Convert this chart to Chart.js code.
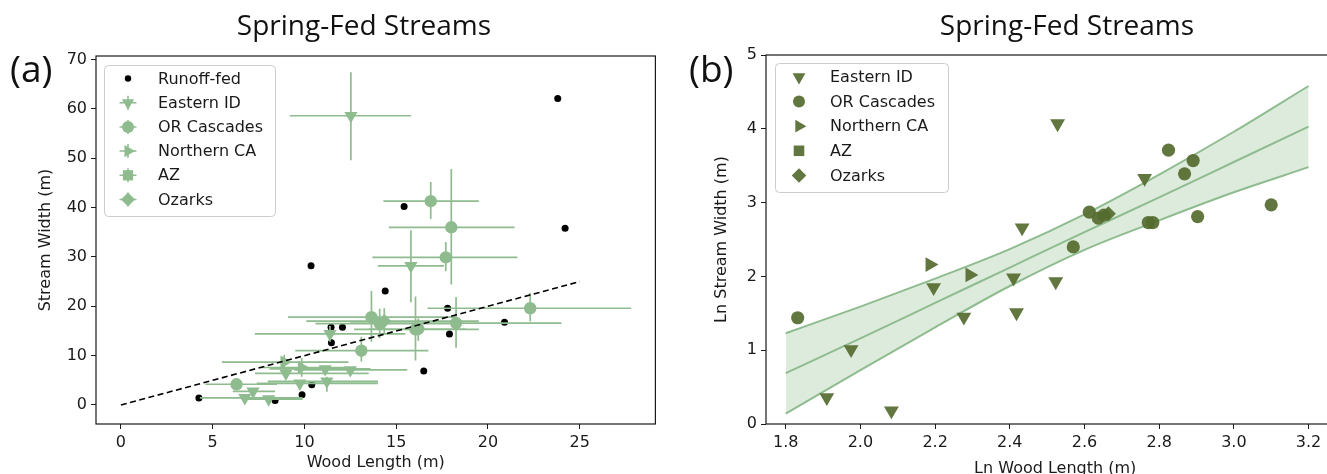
<!DOCTYPE html>
<html>
<head>
<meta charset="utf-8">
<script src="https://cdn.jsdelivr.net/npm/chart.js@4.4.1/dist/chart.umd.min.js"></script>
<style>
  html, body { margin: 0; padding: 0; background: #fff; overflow: hidden; width: 1327px; height: 474px; }
  canvas { position: absolute; top: 0; }
  #chartA { left: 0; }
  #chartB { left: 663px; }
  .title { position: absolute; top: 5px; font-family: 'Open Sans', sans-serif; font-size: 28px; color: #111;
           white-space: nowrap; transform: translateX(-50%); }
  .tag { position: absolute; top: 42px; font-family: 'Open Sans', sans-serif; font-size: 37px; color: #111; }
</style>
</head>
<body>
<canvas id="chartA" width="663" height="474"></canvas>
<canvas id="chartB" width="690" height="480"></canvas>
<div class="title" style="left:364px">Spring-Fed Streams</div>
<div class="title" style="left:1067px">Spring-Fed Streams</div>
<div class="tag" style="left:10px">(a)</div>
<div class="tag" style="left:689px">(b)</div>
<script>
// ---- panel (a): stream width vs wood length ----
const runoffX = [4.25, 8.4, 9.87, 10.4, 10.36, 11.45, 12.07, 11.47, 14.4, 15.43, 16.5, 17.8, 17.9, 20.9, 23.8, 24.2];
const runoffY = [1.4, 0.9, 2.1, 4.1, 28.2, 15.75, 15.75, 12.6, 23.1, 40.2, 6.9, 19.6, 14.4, 16.75, 62.1, 35.8];

const idX   = [6.75, 7.2, 8.05, 8.99, 9.75, 11.13, 11.22, 11.39, 12.5, 12.53, 15.8];
const idY   = [1.45, 2.75, 1.2, 6.4, 4.4, 7.3, 4.8, 14.4, 7.1, 58.6, 28.2];
const idXlo = [4.3, 6.1, 6.6, 7.3, 7.4, 8.1, 8.0, 7.3, 9.45, 9.2, 14.0];
const idXhi = [9.9, 8.4, 9.9, 13.5, 14.0, 13.6, 14.0, 15.5, 15.6, 15.8, 17.6];
const idYlo = [1.1, 2.3, 0.9, 5.6, 3.8, 6.6, 2.7, 12.8, 6.5, 49.6, 20.8];
const idYhi = [1.8, 3.2, 1.5, 7.2, 5.0, 8.0, 5.7, 16.0, 7.7, 67.4, 35.4];

const orX   = [6.3, 13.1, 13.65, 14.1, 16.05, 16.2, 16.88, 17.7, 18.0, 18.26, 22.3];
const orY   = [4.2, 11.0, 17.8, 16.5, 15.3, 15.4, 41.3, 29.9, 36.0, 16.6, 19.6];
const orXlo = [4.6, 9.5, 9.1, 10.6, 12.7, 13.5, 14.3, 13.7, 14.6, 12.5, 16.7];
const orXhi = [8.5, 16.75, 18.3, 17.9, 19.5, 18.8, 19.5, 21.6, 21.45, 24.0, 27.8];
const orYlo = [3.3, 8.8, 12.8, 13.5, 9.0, 13.0, 37.7, 27.1, 24.4, 11.6, 16.9];
const orYhi = [5.0, 13.8, 23.1, 19.5, 22.0, 17.5, 45.2, 33.0, 47.8, 21.9, 22.7];

const ncaX   = [8.9, 9.85];
const ncaY   = [8.7, 7.6];
const ncaXlo = [5.5, 7.6];
const ncaXhi = [12.4, 12.2];
const ncaYlo = [7.6, 5.7];
const ncaYhi = [10.2, 9.5];

const ozX   = [14.35];
const ozY   = [17.0];
const ozXlo = [10.1];
const ozXhi = [19.5];
const ozYlo = [14.5];
const ozYhi = [19.6];

const oneToOneX = [0, 25];
const oneToOneY = [0, 25];

const ticksAX = [0, 5, 10, 15, 20, 25];
const ticksAY = [0, 10, 20, 30, 40, 50, 60, 70];

// ---- panel (b): ln-ln with fit and confidence band ----
const lnIdX = [1.91, 1.975, 2.083, 2.196, 2.277, 2.41, 2.418, 2.433, 2.523, 2.528, 2.761];
const lnIdY = [0.36, 1.01, 0.18, 1.85, 1.45, 1.98, 1.51, 2.66, 1.93, 4.07, 3.33];
const lnOrX = [1.832, 2.57, 2.613, 2.637, 2.652, 2.771, 2.783, 2.825, 2.868, 2.891, 2.903, 3.10];
const lnOrY = [1.44, 2.40, 2.87, 2.79, 2.83, 2.73, 2.73, 3.71, 3.39, 3.57, 2.81, 2.97];
const lnNcaX = [2.186, 2.293];
const lnNcaY = [2.16, 2.02];
const lnOzX = [2.664];
const lnOzY = [2.85];

const bandX     = [1.8, 2.0, 2.2, 2.4, 2.6, 2.8, 3.0, 3.2];
const bandUpper = [1.23, 1.59, 1.97, 2.37, 2.84, 3.38, 3.96, 4.58];
const fitLine   = [0.69, 1.16, 1.64, 2.12, 2.60, 3.07, 3.55, 4.03];
const bandLower = [0.14, 0.73, 1.31, 1.87, 2.36, 2.76, 3.14, 3.48];

const ticksBX = [1.8, 2.0, 2.2, 2.4, 2.6, 2.8, 3.0, 3.2];
const ticksBY = [0, 1, 2, 3, 4, 5];

const lightGreen = '#8fbc8f';
const darkGreen = 'rgba(85,107,47,0.92)';
const ink = '#1a1a1a';

Chart.defaults.font.family = "'DejaVu Sans', sans-serif";
Chart.defaults.font.size = 16;
Chart.defaults.color = ink;

const pts = (xs, ys) => xs.map((x, i) => ({ x: x, y: ys[i] }));

// error bars as one broken line: horizontal then vertical segment per point
function whiskers(xs, ys, xlo, xhi, ylo, yhi) {
  const out = [];
  xs.forEach((x, i) => {
    out.push({ x: xlo[i], y: ys[i] }, { x: xhi[i], y: ys[i] }, { x: null, y: null });
    out.push({ x: x, y: ylo[i] }, { x: x, y: yhi[i] }, { x: null, y: null });
  });
  return out;
}

function drawMarker(ctx, style, x, y, r, rot) {
  ctx.beginPath();
  if (style === 'circle') {
    ctx.arc(x, y, r, 0, Math.PI * 2);
  } else if (style === 'triangle') {
    let a = (rot || 0) * Math.PI / 180;
    for (let k = 0; k < 3; k++) {
      const px = x + Math.sin(a) * r, py = y - Math.cos(a) * r;
      if (k) ctx.lineTo(px, py); else ctx.moveTo(px, py);
      a += 2 * Math.PI / 3;
    }
    ctx.closePath();
  } else if (style === 'rect') {
    const s = r * 0.8;
    ctx.rect(x - s, y - s, 2 * s, 2 * s);
  } else if (style === 'rectRot') {
    const s = r * 1.1;
    ctx.moveTo(x, y - s); ctx.lineTo(x + s, y); ctx.lineTo(x, y + s); ctx.lineTo(x - s, y);
    ctx.closePath();
  }
  ctx.fill();
}

// axes frame + boxed legend
const framePlugin = {
  id: 'boxLegend',
  afterDatasetsDraw(chart, args, opts) {
    const ctx = chart.ctx, a = chart.chartArea;
    ctx.save();
    ctx.strokeStyle = ink;
    ctx.lineWidth = 1.2;
    ctx.strokeRect(a.left, a.top, a.right - a.left, a.bottom - a.top);

    const [bx, by, bw, bh] = opts.box;
    ctx.beginPath();
    ctx.roundRect(bx + 0.5, by + 0.5, bw, bh, 4);
    ctx.fillStyle = 'rgba(255,255,255,0.85)';
    ctx.fill();
    ctx.strokeStyle = '#cccccc';
    ctx.lineWidth = 1;
    ctx.stroke();

    ctx.font = "16px 'DejaVu Sans'";
    ctx.textBaseline = 'middle';
    opts.rows.forEach((row, i) => {
      const y = opts.rowY + i * opts.step;
      ctx.fillStyle = row.color;
      if (row.errbar) {
        ctx.strokeStyle = row.color;
        ctx.lineWidth = 1.5;
        ctx.beginPath();
        ctx.moveTo(opts.markerX - 8.5, y); ctx.lineTo(opts.markerX + 8.5, y);
        ctx.moveTo(opts.markerX, y - 7); ctx.lineTo(opts.markerX, y + 7);
        ctx.stroke();
      }
      drawMarker(ctx, row.style, opts.markerX, y, row.r, row.rot);
      ctx.fillStyle = ink;
      ctx.fillText(row.label, opts.textX, y + 1);
    });
    ctx.restore();
  }
};

function axisOpts(min, max, tickList, fitSize, isX, titleText, fmt) {
  return {
    type: 'linear',
    min: min,
    max: max,
    afterBuildTicks: s => { s.ticks = tickList.map(v => ({ value: v })); },
    afterFit: s => { if (isX) s.height = fitSize; else s.width = fitSize; },
    grid: { drawOnChartArea: false, drawTicks: true, tickLength: 5, color: ink, lineWidth: 1 },
    border: { display: false },
    ticks: { color: ink, padding: 4, maxRotation: 0, autoSkip: false, callback: fmt || (v => String(v)) },
    title: { display: true, text: titleText, color: ink, padding: isX ? { top: 0, bottom: 2 } : { top: 4, bottom: 0 } }
  };
}

const common = {
  responsive: false,
  animation: false,
  events: [],
  plugins: { legend: { display: false }, tooltip: { enabled: false } }
};

// ---------- chart (a) ----------
new Chart(document.getElementById('chartA'), {
  type: 'scatter',
  data: {
    datasets: [
      { type: 'line', data: pts(oneToOneX, oneToOneY), borderColor: '#000', borderWidth: 1.6,
        borderDash: [6, 3.5], pointRadius: 0, fill: false, order: 0 },
      { data: pts(idX, idY), backgroundColor: lightGreen, pointStyle: 'triangle', pointRotation: 180,
        pointRadius: 7.6, pointBorderWidth: 0, order: 1 },
      { data: pts(orX, orY), backgroundColor: lightGreen, pointStyle: 'circle',
        pointRadius: 6.2, pointBorderWidth: 0, order: 1 },
      { data: pts(ncaX, ncaY), backgroundColor: lightGreen, pointStyle: 'triangle', pointRotation: 90,
        pointRadius: 7.6, pointBorderWidth: 0, order: 1 },
      { data: pts(ozX, ozY), backgroundColor: lightGreen, pointStyle: 'rectRot',
        pointRadius: 7, pointBorderWidth: 0, order: 1 },
      { type: 'line', data: whiskers(idX, idY, idXlo, idXhi, idYlo, idYhi), borderColor: lightGreen,
        borderWidth: 1.7, pointRadius: 0, spanGaps: false, fill: false, order: 2 },
      { type: 'line', data: whiskers(orX, orY, orXlo, orXhi, orYlo, orYhi), borderColor: lightGreen,
        borderWidth: 1.7, pointRadius: 0, spanGaps: false, fill: false, order: 2 },
      { type: 'line', data: whiskers(ncaX, ncaY, ncaXlo, ncaXhi, ncaYlo, ncaYhi), borderColor: lightGreen,
        borderWidth: 1.7, pointRadius: 0, spanGaps: false, fill: false, order: 2 },
      { type: 'line', data: whiskers(ozX, ozY, ozXlo, ozXhi, ozYlo, ozYhi), borderColor: lightGreen,
        borderWidth: 1.7, pointRadius: 0, spanGaps: false, fill: false, order: 2 },
      { data: pts(runoffX, runoffY), backgroundColor: '#000', pointStyle: 'circle',
        pointRadius: 3.5, pointBorderWidth: 0, order: 3 }
    ]
  },
  options: Object.assign({}, common, {
    layout: { padding: { left: 32, top: 56, right: 5, bottom: 0 } },
    scales: {
      x: axisOpts(-1.356, 29.12, ticksAX, 50, true, 'Wood Length (m)'),
      y: axisOpts(-3.85, 70.7, ticksAY, 64, false, 'Stream Width (m)')
    },
    plugins: Object.assign({}, common.plugins, {
      boxLegend: {
        box: [104, 65, 171, 151], markerX: 128, textX: 158, rowY: 78.5, step: 24.2,
        rows: [
          { label: 'Runoff-fed', style: 'circle', r: 3.2, color: '#000' },
          { label: 'Eastern ID', style: 'triangle', rot: 180, r: 7, color: lightGreen, errbar: true },
          { label: 'OR Cascades', style: 'circle', r: 6, color: lightGreen, errbar: true },
          { label: 'Northern CA', style: 'triangle', rot: 90, r: 7, color: lightGreen, errbar: true },
          { label: 'AZ', style: 'rect', r: 6.4, color: lightGreen, errbar: true },
          { label: 'Ozarks', style: 'rectRot', r: 6.4, color: lightGreen, errbar: true }
        ]
      }
    })
  }),
  plugins: [framePlugin]
});

// ---------- chart (b) ----------
new Chart(document.getElementById('chartB'), {
  type: 'scatter',
  data: {
    datasets: [
      { data: pts(lnIdX, lnIdY), backgroundColor: darkGreen, pointStyle: 'triangle', pointRotation: 180,
        pointRadius: 8.6, pointBorderWidth: 0, order: 0 },
      { data: pts(lnOrX, lnOrY), backgroundColor: darkGreen, pointStyle: 'circle',
        pointRadius: 6.6, pointBorderWidth: 0, order: 0 },
      { data: pts(lnNcaX, lnNcaY), backgroundColor: darkGreen, pointStyle: 'triangle', pointRotation: 90,
        pointRadius: 8.6, pointBorderWidth: 0, order: 0 },
      { data: pts(lnOzX, lnOzY), backgroundColor: darkGreen, pointStyle: 'rectRot',
        pointRadius: 7.5, pointBorderWidth: 0, order: 0 },
      { type: 'line', data: pts(bandX, fitLine), borderColor: lightGreen, borderWidth: 2,
        pointRadius: 0, fill: false, cubicInterpolationMode: 'monotone', order: 1 },
      { type: 'line', data: pts(bandX, bandUpper), borderColor: lightGreen, borderWidth: 2,
        pointRadius: 0, fill: '+1', backgroundColor: 'rgba(143,188,143,0.3)',
        cubicInterpolationMode: 'monotone', order: 1 },
      { type: 'line', data: pts(bandX, bandLower), borderColor: lightGreen, borderWidth: 2,
        pointRadius: 0, fill: false, cubicInterpolationMode: 'monotone', order: 1 }
    ]
  },
  options: Object.assign({}, common, {
    layout: { padding: { left: 45, top: 55, right: 0, bottom: 0 } },
    scales: {
      x: axisOpts(1.7472, 3.296, ticksBX, 56, true, 'Ln Wood Length (m)', v => v.toFixed(1)),
      y: axisOpts(0, 5, ticksBY, 58, false, 'Ln Stream Width (m)')
    },
    plugins: Object.assign({}, common.plugins, {
      boxLegend: {
        box: [112, 63, 173, 129], markerX: 136, textX: 167, rowY: 77, step: 24.6,
        rows: [
          { label: 'Eastern ID', style: 'triangle', rot: 180, r: 7.4, color: darkGreen },
          { label: 'OR Cascades', style: 'circle', r: 6, color: darkGreen },
          { label: 'Northern CA', style: 'triangle', rot: 90, r: 7.4, color: darkGreen },
          { label: 'AZ', style: 'rect', r: 6.6, color: darkGreen },
          { label: 'Ozarks', style: 'rectRot', r: 6.6, color: darkGreen }
        ]
      }
    })
  }),
  plugins: [framePlugin]
});
</script>
</body>
</html>
